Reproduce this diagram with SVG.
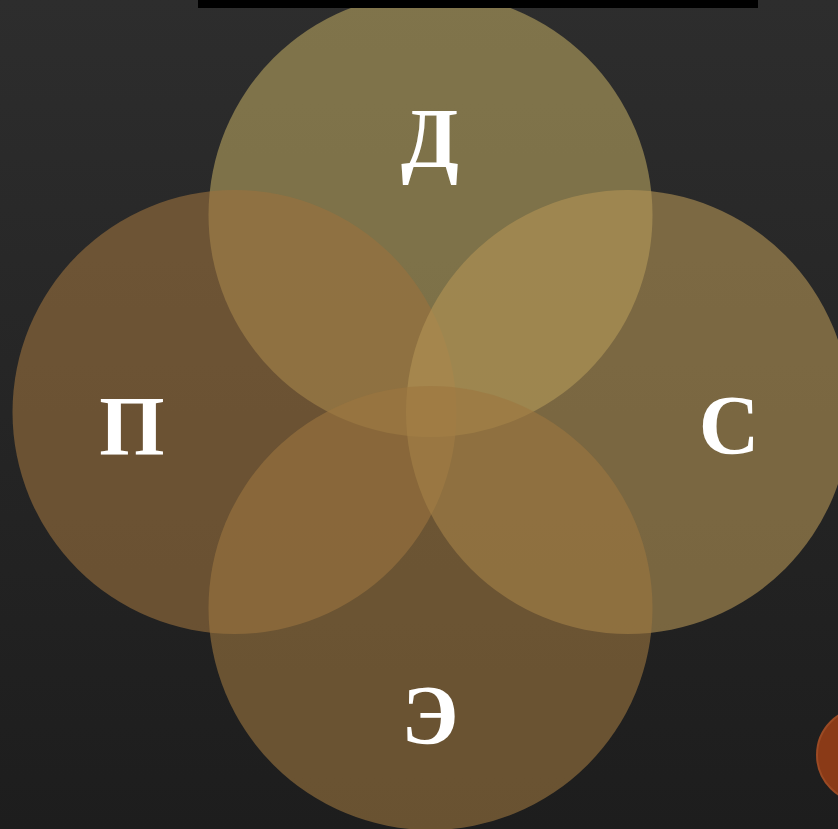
<svg xmlns="http://www.w3.org/2000/svg" width="838" height="829" viewBox="0 0 838 829">
<style>
.c{opacity:0.6}
.t{font-family:"Liberation Serif","Times New Roman",serif;font-size:84px;font-weight:bold;fill:#ffffff;text-anchor:middle}
</style>
<defs>
<linearGradient id="bg" x1="0" y1="0" x2="0" y2="1">
<stop offset="0" stop-color="#2d2d2d"/>
<stop offset="1" stop-color="#1d1d1d"/>
</linearGradient>
</defs>
<rect width="838" height="829" fill="url(#bg)"/>
<g id="node-d"><circle class="c" cx="430.5" cy="215" r="222" fill="#b8a45f"/></g>
<g id="node-p"><circle class="c" cx="234.5" cy="412" r="222" fill="#9b723e"/></g>
<g id="node-s"><circle class="c" cx="628" cy="412" r="222" fill="#b49555"/></g>
<g id="node-e"><circle class="c" cx="430.5" cy="608" r="222" fill="#9d7740"/></g>
<rect x="198" y="0" width="560" height="8" fill="#000000"/>
<g id="labels">
<text class="t" x="430" y="167">Д</text>
<text class="t" x="132" y="455">П</text>
<text class="t" x="729" y="454">С</text>
<text class="t" x="430" y="744">Э</text>
</g>
<g id="corner"><circle cx="864" cy="755" r="47" fill="#8a3a17" stroke="#9b4a24" stroke-width="2"/></g>
<g id="connectors"/>
</svg>
